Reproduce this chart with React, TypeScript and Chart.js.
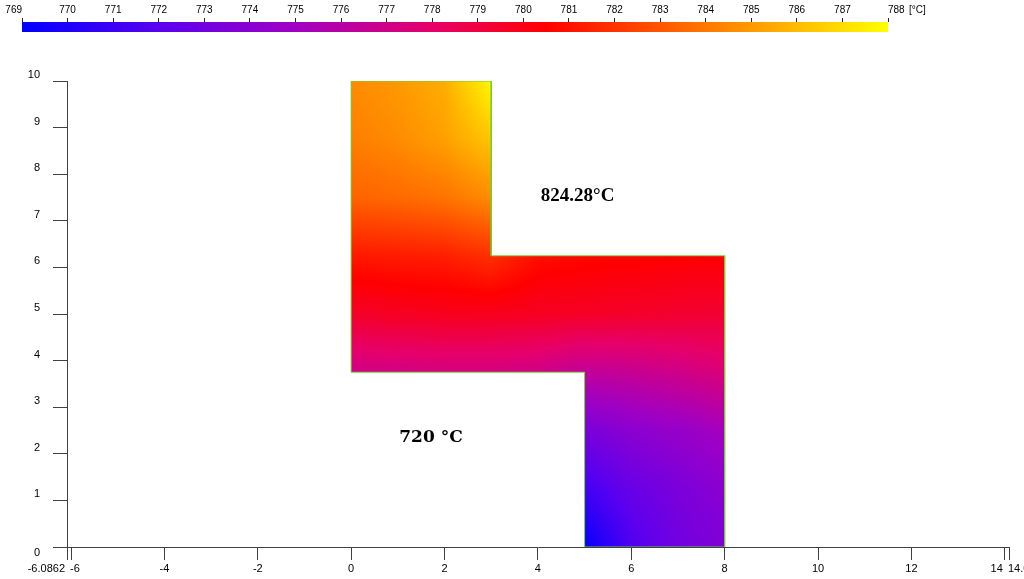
import React, { useEffect, useRef } from "react";
import { Chart, registerables } from "chart.js";

Chart.register(...registerables);

// ---------- colour scale ----------
const scaleMin = 769;
const scaleMax = 788;
const scaleTicks = [769, 770, 771, 772, 773, 774, 775, 776, 777, 778, 779, 780, 781, 782, 783, 784, 785, 786, 787, 788];
const scaleUnit = "[°C]";
const cmapTemps = [769, 772, 775, 778, 780.5, 784.5, 788];
const cmapColors = ["#0000ff", "#5a00f0", "#a000c3", "#e60069", "#ff0000", "#ff8800", "#ffff00"];

// ---------- axes ----------
const xMin = -6.0862;
const xMax = 14.09;
const xTicks = [-6.0862, -6, -4, -2, 0, 2, 4, 6, 8, 10, 12, 14, 14.09];
const xTickLabels = ["-6.0862", "-6", "-4", "-2", "0", "2", "4", "6", "8", "10", "12", "14", "14.09"];
const yMin = 0;
const yMax = 10;
const yTicks = [0, 1, 2, 3, 4, 5, 6, 7, 8, 9, 10];

// ---------- temperature field (nodes) ----------
const xNodes = [0, 1, 2, 3, 4, 5, 6, 7, 8];
const yNodes = [0, 1.25, 2.5, 3.75, 5, 6.25, 7.5, 8.75, 10];
const tRow0 = [null, null, null, null, null, 769.2, 771.6, 773.0, 773.6];
const tRow1 = [null, null, null, null, null, 771.2, 772.6, 773.4, 774.1];
const tRow2 = [null, null, null, null, null, 773.3, 774.1, 774.6, 775.2];
const tRow3 = [777.0, 777.1, 777.2, 777.2, 777.0, 776.4, 776.6, 777.0, 777.5];
const tRow4 = [779.5, 779.7, 779.8, 779.8, 779.7, 779.6, 779.5, 779.4, 779.3];
const tRow5 = [781.2, 781.3, 781.4, 781.9, 780.9, 780.7, 780.6, 780.5, 780.4];
const tRow6 = [783.4, 783.6, 783.9, 784.6, null, null, null, null, null];
const tRow7 = [784.2, 784.6, 785.2, 786.3, null, null, null, null, null];
const tRow8 = [784.6, 785.0, 785.6, 787.8, null, null, null, null, null];
const tRows: (number | null)[][] = [tRow0, tRow1, tRow2, tRow3, tRow4, tRow5, tRow6, tRow7, tRow8];

// ---------- outline ----------
const outlineX = [0, 3, 3, 8, 8, 5, 5, 0, 0];
const outlineY = [10, 10, 6.25, 6.25, 0, 0, 3.75, 3.75, 10];

// ---------- notes ----------
const noteTexts = ["824.28°C", "720 °C"];
const noteX = [4.85, 1.71];
const noteY = [7.53, 2.34];
const noteFonts = ['bold 19px "Liberation Serif", "Times New Roman", serif', 'bold 17px "DejaVu Serif", serif'];

const axisColor = "#404040";
const labelFont = '11px "Liberation Sans", Arial, sans-serif';
const barFont = '10px "Liberation Sans", Arial, sans-serif';

function hexToRgb(h: string): number[] {
  return [parseInt(h.slice(1, 3), 16), parseInt(h.slice(3, 5), 16), parseInt(h.slice(5, 7), 16)];
}
const cmapRgb = cmapColors.map(hexToRgb);

function colorFor(t: number): number[] {
  if (t <= cmapTemps[0]) return cmapRgb[0];
  const n = cmapTemps.length;
  if (t >= cmapTemps[n - 1]) return cmapRgb[n - 1];
  for (let k = 0; k < n - 1; k++) {
    if (t >= cmapTemps[k] && t <= cmapTemps[k + 1]) {
      const f = (t - cmapTemps[k]) / (cmapTemps[k + 1] - cmapTemps[k]);
      const a = cmapRgb[k], b = cmapRgb[k + 1];
      return [a[0] + (b[0] - a[0]) * f, a[1] + (b[1] - a[1]) * f, a[2] + (b[2] - a[2]) * f];
    }
  }
  return cmapRgb[n - 1];
}

function findCell(v: number, nodes: number[]): number {
  if (v < nodes[0] || v > nodes[nodes.length - 1]) return -1;
  for (let k = 0; k < nodes.length - 1; k++) {
    if (v <= nodes[k + 1]) return k;
  }
  return nodes.length - 2;
}

function tempAt(x: number, y: number): number | null {
  const i = findCell(x, xNodes);
  const j = findCell(y, yNodes);
  if (i < 0 || j < 0) return null;
  const t00 = tRows[j][i], t10 = tRows[j][i + 1], t01 = tRows[j + 1][i], t11 = tRows[j + 1][i + 1];
  if (t00 === null || t10 === null || t01 === null || t11 === null) return null;
  const fx = (x - xNodes[i]) / (xNodes[i + 1] - xNodes[i]);
  const fy = (y - yNodes[j]) / (yNodes[j + 1] - yNodes[j]);
  const a = t00 + (t10 - t00) * fx;
  const b = t01 + (t11 - t01) * fx;
  return a + (b - a) * fy;
}

const heatPlugin = {
  id: "heat",
  beforeDatasetsDraw(chart: any) {
    const xs = chart.scales.x, ys = chart.scales.y;
    const x0 = Math.floor(xs.getPixelForValue(xNodes[0]));
    const x1 = Math.ceil(xs.getPixelForValue(xNodes[xNodes.length - 1]));
    const y0 = Math.floor(ys.getPixelForValue(yNodes[yNodes.length - 1]));
    const y1 = Math.ceil(ys.getPixelForValue(yNodes[0]));
    const w = x1 - x0, h = y1 - y0;
    if (w <= 0 || h <= 0) return;
    const off = document.createElement("canvas");
    off.width = w;
    off.height = h;
    const octx = off.getContext("2d")!;
    const img = octx.createImageData(w, h);
    for (let py = 0; py < h; py++) {
      const yv = ys.getValueForPixel(y0 + py + 0.5);
      for (let px = 0; px < w; px++) {
        const xv = xs.getValueForPixel(x0 + px + 0.5);
        const t = tempAt(xv, yv);
        if (t === null) continue;
        const c = colorFor(t);
        const k = (py * w + px) * 4;
        img.data[k] = c[0];
        img.data[k + 1] = c[1];
        img.data[k + 2] = c[2];
        img.data[k + 3] = 255;
      }
    }
    octx.putImageData(img, 0, 0);
    chart.ctx.drawImage(off, x0, y0);
  },
};

const notesPlugin = {
  id: "notes",
  afterDatasetsDraw(chart: any) {
    const ctx = chart.ctx;
    const xs = chart.scales.x, ys = chart.scales.y;
    ctx.save();
    ctx.fillStyle = "#000";
    ctx.textAlign = "center";
    ctx.textBaseline = "middle";
    noteTexts.forEach((txt, i) => {
      ctx.font = noteFonts[i];
      ctx.fillText(txt, xs.getPixelForValue(noteX[i]), ys.getPixelForValue(noteY[i]));
    });
    ctx.restore();
  },
};

const axisLabelsPlugin = {
  id: "axisLabels",
  afterDraw(chart: any) {
    const ctx = chart.ctx;
    const xs = chart.scales.x, ys = chart.scales.y;
    const area = chart.chartArea;
    ctx.save();
    ctx.fillStyle = "#000";
    ctx.font = labelFont;
    ctx.textBaseline = "middle";
    const n = xTicks.length;
    xTicks.forEach((v, i) => {
      const p = xs.getPixelForValue(v);
      let align: CanvasTextAlign = "center";
      let x = p;
      if (i === 0 || i === n - 2) { align = "right"; x = p - 2; }
      else if (i === 1 || i === n - 1) { align = "left"; x = p - 1; }
      ctx.textAlign = align;
      ctx.fillText(xTickLabels[i], x, area.bottom + 22);
    });
    ctx.textAlign = "right";
    yTicks.forEach((v, i) => {
      const p = ys.getPixelForValue(v);
      ctx.fillText(String(v), area.left - 27, i === 0 ? p + 6 : p - 6);
    });
    ctx.restore();
  },
};

const barLabelsPlugin = {
  id: "barLabels",
  afterDraw(chart: any) {
    const ctx = chart.ctx;
    const xs = chart.scales.x;
    const area = chart.chartArea;
    ctx.save();
    ctx.fillStyle = "#000";
    ctx.font = barFont;
    ctx.textBaseline = "middle";
    const n = scaleTicks.length;
    scaleTicks.forEach((v, i) => {
      const p = xs.getPixelForValue(v);
      ctx.textAlign = i === 0 ? "right" : i === n - 1 ? "left" : "center";
      ctx.fillText(String(v), p, area.top - 12);
    });
    ctx.textAlign = "left";
    ctx.fillText(scaleUnit, xs.getPixelForValue(scaleMax) + 21, area.top - 12);
    ctx.restore();
  },
};

export default function App() {
  const mainRef = useRef<HTMLCanvasElement>(null);
  const barRef = useRef<HTMLCanvasElement>(null);

  useEffect(() => {
    const main = new Chart(mainRef.current as HTMLCanvasElement, {
      type: "scatter",
      data: {
        datasets: [
          {
            data: outlineX.map((x, i) => ({ x, y: outlineY[i] })),
            showLine: true,
            borderColor: "#70d030",
            borderWidth: 1,
            pointRadius: 0,
            fill: false,
            tension: 0,
          } as any,
        ],
      },
      options: {
        animation: false,
        responsive: false,
        events: [],
        layout: { padding: { left: 53, right: 15, top: 81, bottom: 19 } },
        plugins: { legend: { display: false }, tooltip: { enabled: false } },
        scales: {
          x: {
            type: "linear",
            min: xMin,
            max: xMax,
            afterBuildTicks: (s: any) => {
              s.ticks = xTicks.map((v) => ({ value: v }));
            },
            ticks: { display: false },
            grid: { drawOnChartArea: false, drawTicks: true, tickLength: 13, color: axisColor },
            border: { display: true, color: axisColor },
          },
          y: {
            type: "linear",
            min: yMin,
            max: yMax,
            afterBuildTicks: (s: any) => {
              s.ticks = yTicks.map((v) => ({ value: v }));
            },
            ticks: { display: false },
            grid: { drawOnChartArea: false, drawTicks: true, tickLength: 14, color: axisColor },
            border: { display: true, color: axisColor },
          },
        },
      } as any,
      plugins: [heatPlugin, notesPlugin, axisLabelsPlugin],
    });

    const bar = new Chart(barRef.current as HTMLCanvasElement, {
      type: "bar",
      data: {
        labels: ["T"],
        datasets: [
          {
            data: [[scaleMin, scaleMax]],
            backgroundColor: (c: any) => {
              const ch = c.chart;
              if (!ch.chartArea || !ch.scales.x) return cmapColors[0];
              const xs = ch.scales.x;
              const g = ch.ctx.createLinearGradient(xs.getPixelForValue(scaleMin), 0, xs.getPixelForValue(scaleMax), 0);
              cmapTemps.forEach((t, i) => g.addColorStop((t - scaleMin) / (scaleMax - scaleMin), cmapColors[i]));
              return g;
            },
            borderWidth: 0,
            barPercentage: 1,
            categoryPercentage: 1,
          } as any,
        ],
      },
      options: {
        indexAxis: "y",
        animation: false,
        responsive: false,
        events: [],
        layout: { padding: { left: 22, right: 136, top: 18, bottom: 8 } },
        plugins: { legend: { display: false }, tooltip: { enabled: false } },
        scales: {
          x: {
            type: "linear",
            position: "top",
            min: scaleMin,
            max: scaleMax,
            afterBuildTicks: (s: any) => {
              s.ticks = scaleTicks.map((v) => ({ value: v }));
            },
            ticks: { display: false },
            grid: { drawOnChartArea: false, drawTicks: true, tickLength: 4, color: "#202020" },
            border: { display: false },
          },
          y: { display: false },
        },
      } as any,
      plugins: [barLabelsPlugin],
    });

    return () => {
      main.destroy();
      bar.destroy();
    };
  }, []);

  return (
    <div style={{ position: "fixed", left: 0, top: 0, width: 1024, height: 579, background: "#fff" }}>
      <canvas ref={mainRef} width={1024} height={579} style={{ position: "absolute", left: 0, top: 0, display: "block" }} />
      <canvas ref={barRef} width={1024} height={40} style={{ position: "absolute", left: 0, top: 0, display: "block" }} />
    </div>
  );
}
